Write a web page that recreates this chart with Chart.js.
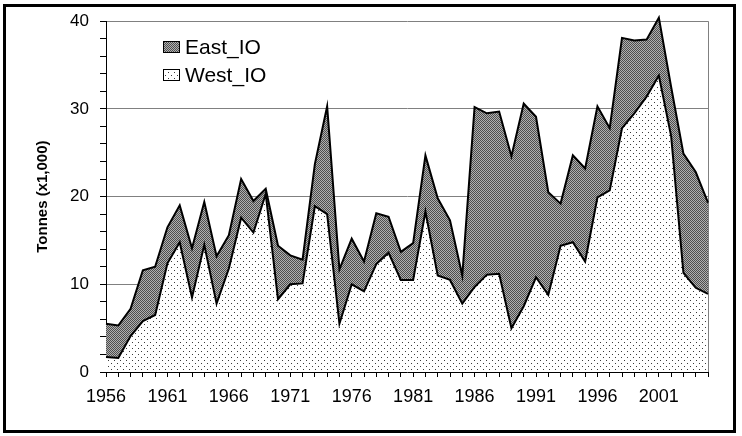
<!DOCTYPE html>
<html>
<head>
<meta charset="utf-8">
<script src="https://cdn.jsdelivr.net/npm/chart.js@4.4.0/dist/chart.umd.min.js"></script>
<style>
html,body{margin:0;padding:0;background:#fff;}
#wrap{width:742px;height:436px;position:relative;}
</style>
</head>
<body>
<div id="wrap"><canvas id="c" width="742" height="436"></canvas></div>
<script>
// ---- data ----
const years = ['1956','1957','1958','1959','1960','1961','1962','1963','1964','1965',
               '1966','1967','1968','1969','1970','1971','1972','1973','1974','1975',
               '1976','1977','1978','1979','1980','1981','1982','1983','1984','1985',
               '1986','1987','1988','1989','1990','1991','1992','1993','1994','1995',
               '1996','1997','1998','1999','2000','2001','2002','2003','2004','2005'];
const westIO = [1.7,1.6,4.1,5.8,6.5,12.4,14.8,8.5,14.5,7.8,
                11.8,17.6,15.9,20.3,8.3,10.0,10.1,18.9,18.0,5.5,
                10.0,9.2,12.3,13.6,10.5,10.5,18.3,11.0,10.5,7.8,
                9.7,11.1,11.2,5.0,7.5,10.8,8.8,14.4,14.8,12.6,
                19.9,20.7,27.8,29.5,31.4,33.8,26.9,11.3,9.6,8.9];
const eastIO = [3.8,3.7,3.1,5.8,5.5,4.1,4.2,5.6,4.9,5.4,
                3.8,4.4,3.6,0.6,6.1,3.3,2.7,4.8,12.3,6.2,
                5.2,3.4,5.8,4.1,3.2,4.2,6.4,8.8,6.8,3.2,
                20.5,18.4,18.5,19.6,23.1,18.3,11.7,4.8,9.9,10.6,
                10.4,7.1,10.3,8.3,6.5,6.6,5.6,13.6,13.2,10.4];
const xTickLabels = ['1956','1961','1966','1971','1976','1981','1986','1991','1996','2001'];
const yTickLabels = ['0','10','20','30','40'];
const seriesNames = ['West_IO','East_IO'];

// ---- patterns ----
function makePattern(w, h, draw) {
  const c = document.createElement('canvas');
  c.width = w; c.height = h;
  const g = c.getContext('2d');
  draw(g, w, h);
  return g.createPattern(c, 'repeat');
}
const eastPat = makePattern(2, 2, (g) => {
  g.fillStyle = '#b0b0b0'; g.fillRect(0, 0, 2, 2);
  g.fillStyle = '#4e4e4e'; g.fillRect(0, 0, 1, 1); g.fillRect(1, 1, 1, 1);
});
const westPat = makePattern(6, 6, (g) => {
  g.fillStyle = '#ffffff'; g.fillRect(0, 0, 6, 6);
  g.fillStyle = '#3a3a3a'; g.fillRect(0, 0, 1, 1); g.fillRect(3, 3, 1, 1);
});

const FONT = "'Liberation Sans', Arial, sans-serif";

const extras = {
  id: 'extras',
  afterDraw(chart) {
    const ctx = chart.ctx;
    ctx.save();
    const ds = chart.data.datasets.slice().reverse();
    ctx.font = '21px ' + FONT;
    ctx.textBaseline = 'middle';
    ctx.textAlign = 'left';
    ds.forEach((d, i) => {
      const y = 47 + i * 28;
      ctx.fillStyle = d.backgroundColor;
      ctx.fillRect(163, y - 6, 17, 12);
      ctx.strokeStyle = '#000'; ctx.lineWidth = 1;
      ctx.strokeRect(163.5, y - 5.5, 16, 11);
      ctx.fillStyle = '#000';
      ctx.fillText(d.label, 185, y + 1);
    });
    ctx.lineWidth = 3; ctx.strokeStyle = '#000';
    ctx.strokeRect(4.5, 5.5, 730, 426);
    ctx.restore();
  }
};

new Chart(document.getElementById('c'), {
  type: 'line',
  data: {
    labels: years,
    datasets: [
      { label: seriesNames[0], data: westIO, fill: 'origin', backgroundColor: westPat,
        borderColor: '#000', borderWidth: 2, pointRadius: 0, tension: 0, clip: false },
      { label: seriesNames[1], data: eastIO, fill: '-1', backgroundColor: eastPat,
        borderColor: '#000', borderWidth: 2, pointRadius: 0, tension: 0, clip: false }
    ]
  },
  options: {
    responsive: false,
    animation: false,
    devicePixelRatio: 1,
    layout: { padding: { top: 17, right: 34, bottom: 0, left: 0 } },
    plugins: { legend: { display: false }, tooltip: { enabled: false } },
    scales: {
      x: {
        type: 'category',
        offset: false,
        grid: {
          display: true, drawOnChartArea: true,
          color: (c) => (c.index === years.length - 1 ? '#808080' : 'rgba(0,0,0,0)'),
          tickColor: '#000', tickLength: 5, lineWidth: 1
        },
        border: { display: true, color: '#000', width: 1 },
        ticks: {
          autoSkip: false, maxRotation: 0, minRotation: 0, padding: 9, color: '#000',
          font: { family: FONT, size: 18 },
          callback: (v, i) => (xTickLabels.includes(years[i]) ? years[i] : '')
        },
        afterFit: (s) => { s.height = 64; }
      },
      y: {
        stacked: true,
        min: 0, max: 40,
        ticks: {
          stepSize: 2, autoSkip: false, padding: 11, color: '#000',
          font: { family: FONT, size: 17 },
          callback: (v) => (yTickLabels.includes(String(v)) ? String(v) : '')
        },
        grid: {
          color: (c) => (c.tick && c.tick.value % 10 === 0 && c.tick.value > 0 ? '#808080' : 'rgba(0,0,0,0)'),
          tickColor: '#000', tickLength: 6, lineWidth: 1
        },
        border: { display: true, color: '#000', width: 1 },
        title: {
          display: true, text: 'Tonnes (x1,000)', color: '#000',
          font: { family: FONT, size: 15, weight: 'bold' },
          padding: { top: 34, bottom: 0 }
        },
        afterFit: (s) => { s.width = 106; }
      }
    }
  },
  plugins: [extras]
});
</script>
</body>
</html>
